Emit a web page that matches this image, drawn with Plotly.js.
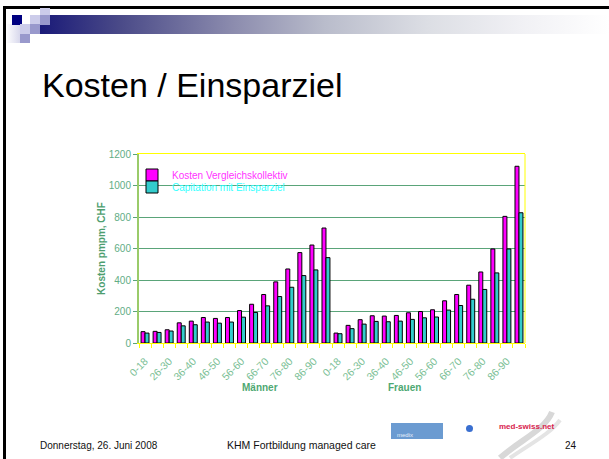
<!DOCTYPE html>
<html>
<head>
<meta charset="utf-8">
<script src="https://cdn.plot.ly/plotly-3.0.1.min.js"></script>
<style>
  html, body { margin: 0; padding: 0; background: #ffffff; }
  #slide { position: relative; width: 609px; height: 459px; overflow: hidden; background: #fff; }
  .d { position: absolute; }
  #chart { position: absolute; left: 0; top: 0; width: 609px; height: 459px; }
</style>
</head>
<body>
<div id="slide">
  <!-- slide decoration -->
  <div class="d" style="left:3px;top:6px;width:606px;height:3px;background:#000;"></div>
  <div class="d" style="left:3px;top:6px;width:3px;height:453px;background:#000;"></div>
  <div class="d" style="left:40px;top:15px;width:569px;height:19px;background:linear-gradient(to right,#1a1a78 0%,#4a4a88 14%,#8c8cae 34%,#b9bccb 50%,#dcdee4 68%,#f0f0f4 84%,#ffffff 100%);"></div>
  <div class="d" style="left:6px;top:24px;width:14px;height:19px;background:linear-gradient(to right,#ffffff,#d8d8ec);"></div>
  <div class="d" style="left:40px;top:8px;width:10px;height:7px;background:#ccccea;"></div>
  <div class="d" style="left:12px;top:15px;width:10px;height:10px;background:#000080;"></div>
  <div class="d" style="left:30px;top:15px;width:10px;height:10px;background:#ccccea;"></div>
  <div class="d" style="left:40px;top:15px;width:10px;height:10px;background:#9999cc;"></div>
  <div class="d" style="left:20px;top:24px;width:10px;height:10px;background:#ccccea;"></div>
  <div class="d" style="left:30px;top:24px;width:10px;height:10px;background:#9999cc;"></div>
  <div class="d" style="left:20px;top:34px;width:10px;height:9px;background:#9999cc;"></div>
  <!-- logos -->
  <div class="d" style="left:391px;top:423px;width:52px;height:16px;background:#6b9bd1;"></div>
  <div class="d" style="left:466px;top:425px;width:7px;height:7px;border-radius:50%;background:#3a6fd0;"></div>
  <svg class="d" style="left:490px;top:410px;" width="80" height="49">
    <path d="M10,48 C30,30 55,20 62,2" stroke="#d8d8d8" stroke-width="6" fill="none"/>
    <path d="M20,48 C40,34 60,24 70,10" stroke="#e4e4e4" stroke-width="4" fill="none"/>
  </svg>
</div>
<div id="chart"></div>
<script>
// ---- data ----
const ageGroups = ["0-18","19-25","26-30","31-35","36-40","41-45","46-50","51-55","56-60","61-65","66-70","71-75","76-80","81-85","86-90",">90"];
const sexes = ["Männer","Frauen"];
const seriesNames = ["Kosten Vergleichskollektiv","Capitation mit Einsparziel"];
const kostenMaenner = [72,74,84,128,139,162,156,162,206,246,308,388,470,574,622,730];
const kostenFrauen  = [63,112,148,173,171,175,192,200,211,268,308,367,451,597,804,1122];
const capMaenner    = [63,67,76,109,116,133,126,133,164,194,236,295,354,428,464,542];
const capFrauen     = [59,91,120,137,135,139,150,160,165,209,238,278,340,445,597,827];
const yTicks = [0,200,400,600,800,1000,1200];

// ---- geometry helpers (pixels -> paper) ----
const L = 139, R = 525, T = 154, B = 343;
const px = x => (x - L) / (R - L);
const py = y => (B - y) / (B - T);

const n = ageGroups.length;
const xIdx = [];
const tickVals = [], tickText = [];
sexes.forEach((s, si) => ageGroups.forEach((a, ai) => {
  const k = si * n + ai;
  xIdx.push(k);
  if (ai % 2 === 0 && ai < n - 1) { tickVals.push(k); tickText.push(a); }
}));
const boundaries = [];
for (let i = 0; i <= xIdx.length; i++) boundaries.push(i - 0.5);

const kosten = kostenMaenner.concat(kostenFrauen);
const cap = capMaenner.concat(capFrauen);

const traces = [
  { type: 'bar', x: xIdx, y: kosten, name: seriesNames[0], legend: 'legend', showlegend: true,
    marker: { color: '#ff00ff', line: { color: '#000000', width: 1 } } },
  { type: 'bar', x: xIdx, y: cap, name: seriesNames[1], legend: 'legend2', showlegend: true,
    marker: { color: '#33cccc', line: { color: '#000000', width: 1 } } }
];

const green = '#5aa479';
const layout = {
  width: 609, height: 459,
  margin: { l: L, r: 609 - R, t: T, b: 459 - B, pad: 0 },
  paper_bgcolor: 'rgba(0,0,0,0)', plot_bgcolor: 'rgba(0,0,0,0)',
  font: { family: 'Liberation Sans, Arial, sans-serif', color: '#000' },
  showlegend: true,
  barmode: 'group', bargap: 0.34, bargroupgap: 0,
  title: { text: 'Kosten / Einsparziel', font: { size: 34, color: '#000000' },
           xref: 'container', yref: 'container', x: 42 / 609, xanchor: 'left',
           y: 1 - 85 / 459, yanchor: 'middle' },
  xaxis: {
    range: [-0.5, xIdx.length - 0.5], fixedrange: true,
    tickmode: 'array', tickvals: tickVals, ticktext: tickText,
    tickangle: -45, ticks: '', ticklabelstandoff: 7, tickfont: { size: 10.5, color: '#7cbf96' },
    minor: { tickmode: 'array', tickvals: boundaries, ticks: 'outside', ticklen: 4, tickcolor: '#ffff00', tickwidth: 1 },
    showline: true, linecolor: '#ffff00', linewidth: 1, mirror: true,
    showgrid: false, zeroline: false
  },
  yaxis: {
    range: [0, 1200], fixedrange: true, tickmode: 'array', tickvals: yTicks,
    showgrid: true, gridcolor: green, gridwidth: 1,
    showline: true, linecolor: '#9acb6a', linewidth: 2,
    ticks: 'outside', ticklen: 4, tickcolor: green,
    tickfont: { size: 10, color: '#62ad85' }, zeroline: false,
    title: { text: 'Kosten pmpm, CHF', standoff: 1,
             font: { size: 10, color: '#4e9e6f', weight: 'bold' } }
  },
  legend: { visible: true, x: px(132), xanchor: 'left', y: py(175), yanchor: 'middle',
            bgcolor: 'rgba(0,0,0,0)', borderwidth: 0,
            font: { size: 10, color: '#ff33ff' } },
  legend2: { visible: true, x: px(132), xanchor: 'left', y: py(187), yanchor: 'middle',
             bgcolor: 'rgba(0,0,0,0)', borderwidth: 0,
             font: { size: 10, color: '#33ffff' } },
  shapes: [
    { type: 'rect', xref: 'paper', yref: 'paper', x0: px(150), x1: px(294), y0: py(192), y1: py(168),
      fillcolor: '#ffffff', line: { width: 0 }, layer: 'between' },
    { type: 'line', xref: 'paper', yref: 'paper', x0: 1, x1: 1, y0: 0, y1: 1,
      line: { color: '#ffff00', width: 1 } }
  ],
  annotations: [
    { text: sexes[0], xref: 'paper', yref: 'paper', x: px(260), y: py(387), xanchor: 'center', yanchor: 'middle',
      showarrow: false, font: { size: 10, color: '#4ea872', weight: 'bold' } },
    { text: sexes[1], xref: 'paper', yref: 'paper', x: px(404), y: py(387), xanchor: 'center', yanchor: 'middle',
      showarrow: false, font: { size: 10, color: '#4ea872', weight: 'bold' } },
    { text: 'Donnerstag, 26. Juni 2008', xref: 'paper', yref: 'paper', x: px(38), y: py(445), xanchor: 'left', yanchor: 'middle',
      showarrow: false, font: { size: 10, color: '#111111' } },
    { text: 'KHM Fortbildung managed care', xref: 'paper', yref: 'paper', x: px(225), y: py(445), xanchor: 'left', yanchor: 'middle',
      showarrow: false, font: { size: 10.5, color: '#111111' } },
    { text: '24', xref: 'paper', yref: 'paper', x: px(579), y: py(445), xanchor: 'right', yanchor: 'middle',
      showarrow: false, font: { size: 10, color: '#111111' } },
    { text: 'med-swiss.net', xref: 'paper', yref: 'paper', x: px(497), y: py(426), xanchor: 'left', yanchor: 'middle',
      showarrow: false, font: { size: 8, color: '#d8244e', weight: 'bold' } },
    { text: 'medix', xref: 'paper', yref: 'paper', x: px(395), y: py(435), xanchor: 'left', yanchor: 'middle',
      showarrow: false, font: { size: 6, color: '#e6eefa' } }
  ]
};

Plotly.newPlot('chart', traces, layout, { displayModeBar: false, staticPlot: true });
</script>
</body>
</html>
